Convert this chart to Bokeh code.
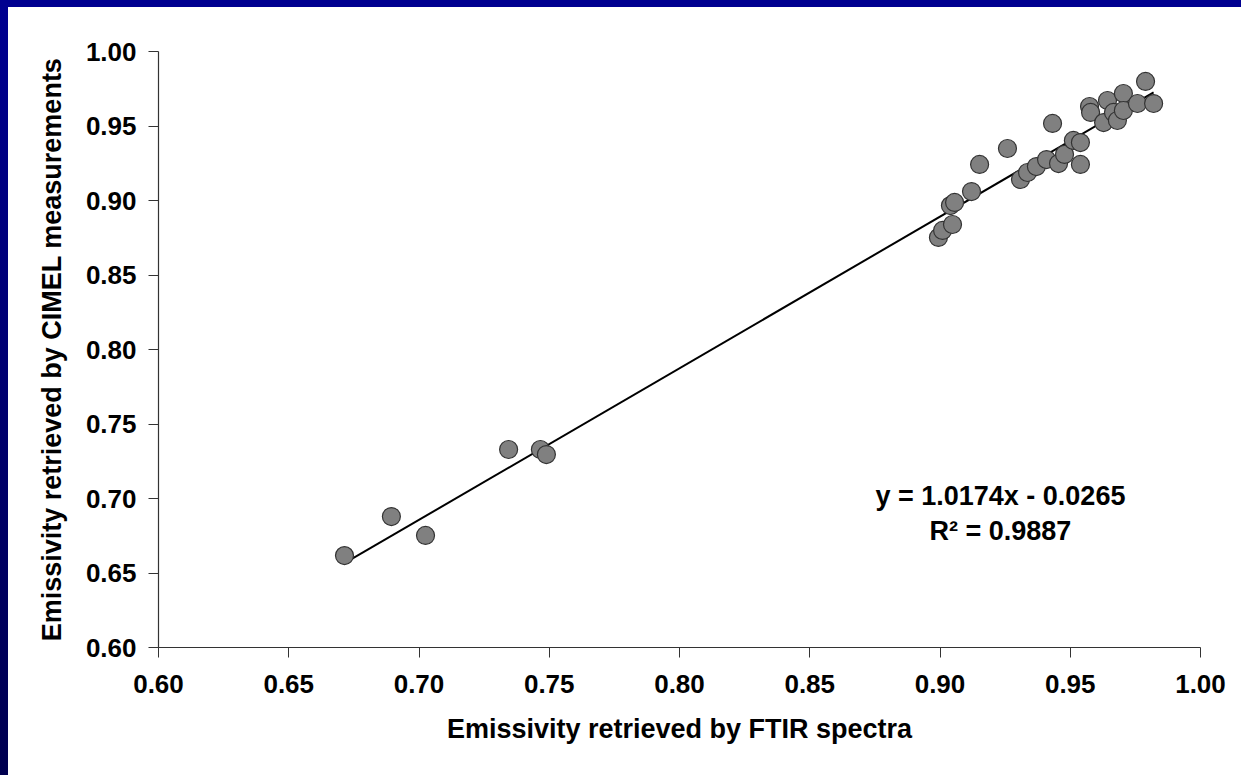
from bokeh.plotting import figure
from bokeh.embed import file_html
from bokeh.resources import INLINE
from bokeh.models import Range1d, FixedTicker, PrintfTickFormatter, Spacer
from bokeh.layouts import column, row
from bokeh.core.properties import value

# FTIR-retrieved emissivity (x) vs CIMEL-retrieved emissivity (y)
ftir = [0.6714, 0.6894, 0.7025, 0.7344, 0.7466, 0.7489,
        0.8994, 0.9010, 0.9048, 0.9040, 0.9056, 0.9121, 0.9152, 0.9259,
        0.9309, 0.9336, 0.9370, 0.9409, 0.9455, 0.9478, 0.9539, 0.9512,
        0.9539, 0.9432, 0.9574, 0.9578, 0.9643, 0.9628, 0.9666, 0.9681,
        0.9704, 0.9704, 0.9758, 0.9789, 0.9820]
cimel = [0.6617, 0.6879, 0.6752, 0.7329, 0.7329, 0.7295,
         0.8752, 0.8799, 0.8839, 0.8966, 0.8987, 0.9060, 0.9242, 0.9349,
         0.9141, 0.9188, 0.9228, 0.9275, 0.9248, 0.9309, 0.9242, 0.9403,
         0.9389, 0.9517, 0.9631, 0.9591, 0.9671, 0.9523, 0.9591, 0.9537,
         0.9718, 0.9604, 0.9651, 0.9799, 0.9651]

slope = 1.0174
intercept = -0.0265
r2 = 0.9887
ticks = [0.60, 0.65, 0.70, 0.75, 0.80, 0.85, 0.90, 0.95, 1.00]

FONT = "Liberation Sans"

p = figure(width=1233, height=768,
           x_range=Range1d(0.6, 1.0), y_range=Range1d(0.6, 1.0),
           output_backend="svg", toolbar_location=None,
           min_border_left=150, min_border_right=41,
           min_border_top=44, min_border_bottom=128)
p.outline_line_color = None
p.grid.visible = False
p.background_fill_color = "white"
p.border_fill_color = "white"

for ax in (p.xaxis[0], p.yaxis[0]):
    ax.ticker = FixedTicker(ticks=ticks)
    ax.formatter = PrintfTickFormatter(format="%.2f")
    ax.minor_tick_line_color = None
    ax.major_tick_in = 0
    ax.major_tick_out = 10
    ax.axis_line_color = "#333333"
    ax.major_tick_line_color = "#333333"
    ax.axis_line_width = 1.2
    ax.major_label_text_font = FONT
    ax.major_label_text_font_style = "bold"
    ax.major_label_text_font_size = "26px"
    ax.major_label_text_color = "black"
    ax.axis_label_text_font = FONT
    ax.axis_label_text_font_style = "bold"
    ax.axis_label_text_font_size = "27px"
    ax.axis_label_text_color = "black"

p.xaxis.axis_label = "Emissivity retrieved by FTIR spectra"
p.yaxis.axis_label = "Emissivity retrieved by CIMEL measurements"
p.yaxis.major_label_standoff = 12
p.xaxis.major_label_standoff = 17
p.yaxis.axis_label_standoff = 16
p.xaxis.axis_label_standoff = 18

# trend line from the regression equation
x0, x1 = min(ftir), max(ftir)
p.line([x0, x1], [slope * x0 + intercept, slope * x1 + intercept],
       line_color="black", line_width=2)

p.scatter(ftir, cimel, size=18, fill_color="#808080",
          line_color="#333333", line_width=1.2)

p.text(x=[0.9232], y=[0.702], text=["y = %.4fx - %.4f" % (slope, -intercept)],
       text_font=value(FONT), text_font_style="bold", text_font_size="27px",
       text_align="center", text_baseline="middle", text_color="black")
p.text(x=[0.9232], y=[0.6785], text=["R\u00b2 = %.4f" % r2],
       text_font=value(FONT), text_font_style="bold", text_font_size="27px",
       text_align="center", text_baseline="middle", text_color="black")

top = Spacer(width=1241, height=7, styles={"background-color": "#000090"})
left = Spacer(width=8, height=768,
              styles={"background": "linear-gradient(#000090, #000050)"})
layout = column(top, row(left, p))

open("out.html", "w").write(file_html(layout, INLINE))
